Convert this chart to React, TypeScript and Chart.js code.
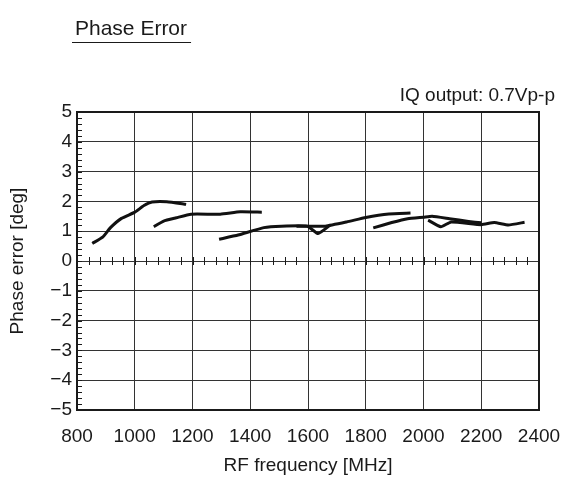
import React, { useEffect, useRef } from "react";
import { Chart, registerables } from "chart.js";

Chart.register(...registerables);

const xTicks = [800, 1000, 1200, 1400, 1600, 1800, 2000, 2200, 2400];
const yTicks = [-5, -4, -3, -2, -1, 0, 1, 2, 3, 4, 5];

const seg1X = [853, 890, 916, 954, 999, 1032, 1060, 1111, 1178];
const seg1Y = [0.59, 0.81, 1.12, 1.43, 1.63, 1.86, 1.98, 1.99, 1.9];
const seg2X = [1066, 1100, 1144, 1195, 1296, 1365, 1440];
const seg2Y = [1.15, 1.34, 1.45, 1.57, 1.57, 1.65, 1.64];
const seg3X = [1292, 1358, 1447, 1508, 1597, 1635, 1676];
const seg3Y = [0.73, 0.87, 1.12, 1.17, 1.17, 0.92, 1.2];
const seg4X = [1560, 1660, 1734, 1800, 1880, 1955];
const seg4Y = [1.17, 1.17, 1.31, 1.46, 1.58, 1.61];
const seg5X = [1826, 1890, 1945, 2000, 2030, 2090, 2156, 2200];
const seg5Y = [1.11, 1.29, 1.42, 1.47, 1.5, 1.42, 1.33, 1.28];
const seg6X = [2016, 2060, 2096, 2200, 2245, 2294, 2350];
const seg6Y = [1.37, 1.15, 1.31, 1.22, 1.29, 1.21, 1.3];

const segments = [
  [seg1X, seg1Y],
  [seg2X, seg2Y],
  [seg3X, seg3Y],
  [seg4X, seg4Y],
  [seg5X, seg5Y],
  [seg6X, seg6Y],
];

const titleText = "Phase Error";
const noteText = "IQ output: 0.7Vp-p";
const xTitle = "RF frequency [MHz]";
const yTitle = "Phase error [deg]";

const FONT = "'Liberation Sans', Arial, Helvetica, sans-serif";
const INK = "#1a1a1a";

const decorPlugin = {
  id: "decor",
  beforeDatasetsDraw(chart: any) {
    const { ctx, chartArea, scales } = chart;
    const xs = scales.x;
    const ys = scales.y;
    ctx.save();
    ctx.strokeStyle = INK;
    ctx.lineWidth = 1;
    for (let v = -5; v <= 5.0001; v += 0.2) {
      const y = Math.round(ys.getPixelForValue(v)) + 0.5;
      ctx.beginPath();
      ctx.moveTo(chartArea.left, y);
      ctx.lineTo(chartArea.left + 5, y);
      ctx.stroke();
    }
    const y0 = ys.getPixelForValue(0);
    for (let f = 800; f <= 2400; f += 40) {
      const x = Math.round(xs.getPixelForValue(f)) + 0.5;
      ctx.beginPath();
      ctx.moveTo(x, y0 - 4);
      ctx.lineTo(x, y0 + 4);
      ctx.stroke();
    }
    ctx.restore();
  },
  afterDraw(chart: any) {
    const { ctx, chartArea } = chart;
    ctx.save();
    ctx.strokeStyle = INK;
    ctx.lineWidth = 2;
    ctx.strokeRect(
      chartArea.left,
      chartArea.top,
      chartArea.right - chartArea.left,
      chartArea.bottom - chartArea.top
    );
    ctx.fillStyle = INK;
    ctx.font = `21px ${FONT}`;
    ctx.textAlign = "left";
    ctx.textBaseline = "alphabetic";
    ctx.fillText(titleText, 75, 35);
    const w = ctx.measureText(titleText).width;
    ctx.lineWidth = 1.2;
    ctx.beginPath();
    ctx.moveTo(72, 42.5);
    ctx.lineTo(75 + w + 4, 42.5);
    ctx.stroke();
    ctx.font = `19px ${FONT}`;
    ctx.textAlign = "right";
    ctx.fillText(noteText, 555, 101);
    ctx.restore();
  },
};

export default function App() {
  const ref = useRef<HTMLCanvasElement | null>(null);

  useEffect(() => {
    if (!ref.current) return;
    const datasets = segments.map(([xs, ys], i) => ({
      label: `s${i + 1}`,
      data: xs.map((x, j) => ({ x, y: ys[j] })),
      borderColor: "#111",
      borderWidth: 3,
      pointRadius: 0,
      tension: 0.15,
      fill: false,
    }));
    const chart = new Chart(ref.current, {
      type: "line",
      data: { datasets },
      options: {
        animation: false,
        responsive: false,
        maintainAspectRatio: false,
        layout: { padding: { top: 112, right: 38, left: 0, bottom: 0 } },
        plugins: { legend: { display: false }, tooltip: { enabled: false } },
        scales: {
          x: {
            type: "linear",
            min: 800,
            max: 2400,
            afterBuildTicks: (s: any) => {
              s.ticks = xTicks.map((v) => ({ value: v }));
            },
            afterFit: (s: any) => {
              s.height = 67;
            },
            grid: { color: "#333", lineWidth: 1, drawTicks: false },
            border: { display: false },
            ticks: {
              color: INK,
              font: { family: FONT, size: 19 },
              padding: 15,
              maxRotation: 0,
              autoSkip: false,
              callback: (v: any) => String(v),
            },
            title: {
              display: true,
              text: xTitle,
              color: INK,
              font: { family: FONT, size: 19 },
              padding: { top: 0, bottom: 0 },
            },
          },
          y: {
            type: "linear",
            min: -5,
            max: 5,
            afterBuildTicks: (s: any) => {
              s.ticks = yTicks.map((v) => ({ value: v }));
            },
            afterFit: (s: any) => {
              s.width = 77;
            },
            grid: { color: "#333", lineWidth: 1, drawTicks: false },
            border: { display: false },
            ticks: {
              color: INK,
              font: { family: FONT, size: 19 },
              padding: 5,
              autoSkip: false,
              callback: (v: any) =>
                Number(v) < 0 ? "\u2212" + Math.abs(Number(v)) : String(v),
            },
            title: {
              display: true,
              text: yTitle,
              color: INK,
              font: { family: FONT, size: 19 },
              padding: { top: 6, bottom: 0 },
            },
          },
        },
      },
      plugins: [decorPlugin],
    });
    return () => chart.destroy();
  }, []);

  return (
    <div
      style={{
        position: "fixed",
        left: 0,
        top: 0,
        width: 577,
        height: 477,
        background: "#fff",
      }}
    >
      <canvas ref={ref} width={577} height={477} style={{ width: 577, height: 477 }} />
    </div>
  );
}
